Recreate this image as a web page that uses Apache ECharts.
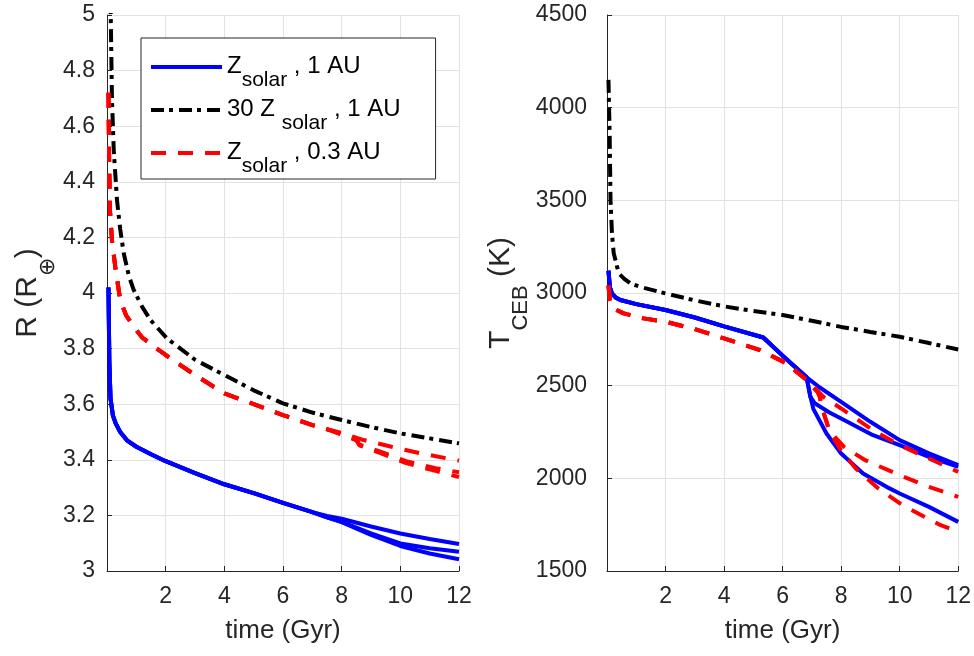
<!DOCTYPE html>
<html><head><meta charset="utf-8">
<script src="https://cdn.jsdelivr.net/npm/echarts@6/dist/echarts.min.js"></script>
<style>html,body{margin:0;padding:0;background:#fff}#c{width:974px;height:656px}</style>
</head><body><div id="c"></div><script>
// ---------------- DATA ----------------
// Left panel: radius R (R_earth) vs time (Gyr)
const rBlueT  = [0.05,0.08,0.12,0.2,0.3,0.45,0.68,1.0,1.5,2,3,4,5,6,7];
const rBlueV  = [4.02,3.75,3.62,3.56,3.53,3.50,3.47,3.447,3.42,3.395,3.352,3.312,3.28,3.245,3.212];
const rBlueAT = [7.5,8,9,10,11,12];
const rBlueAV = [3.198,3.188,3.16,3.135,3.115,3.097];
const rBlueBT = [7.5,8,9,10,11,12];
const rBlueBV = [3.193,3.177,3.135,3.099,3.082,3.069];
const rBlueCT = [7.5,8,9,10,11,12];
const rBlueCV = [3.193,3.176,3.13,3.09,3.063,3.042];

const rBlackT = [0.12,0.17,0.23,0.34,0.45,0.57,0.75,0.91,1.2,1.48,2.04,3,4,5,6,7,8,9,10,11,12];
const rBlackV = [5.05,4.694,4.514,4.335,4.23,4.143,4.06,4.011,3.95,3.903,3.837,3.76,3.705,3.65,3.603,3.57,3.543,3.518,3.495,3.477,3.459];

const rRedT  = [0.05,0.07,0.1,0.17,0.28,0.45,0.65,0.9,1.2,1.6,2,3,4,5,6,7,7.6];
const rRedV  = [4.72,4.5,4.3,4.19,4.095,3.975,3.92,3.88,3.84,3.807,3.777,3.705,3.639,3.6,3.561,3.525,3.507];
const rRedAT = [8,8.75,9.7,10.7,12];
const rRedAV = [3.497,3.471,3.447,3.423,3.397];
const rRedBT = [8,8.5,8.6,9.3,10.2,11.2,12];
const rRedBV = [3.492,3.475,3.455,3.43,3.395,3.37,3.355];
const rRedCT = [8,8.5,8.6,9.3,10.2,11.2,12];
const rRedCV = [3.49,3.47,3.452,3.425,3.388,3.36,3.338];

// Right panel: T_CEB (K) vs time (Gyr)
const tBlueT  = [0.05,0.1,0.17,0.3,0.46,1,2,3,4,5.34,6,6.82];
const tBlueV  = [3120,3030,2998,2975,2962,2940,2908,2868,2820,2760,2662,2545];
const tBlueAT = [7.27,8,9,10,11,12];
const tBlueAV = [2490,2413,2305,2206,2135,2071];
const tBlueBT = [6.95,7.1,7.3,7.6,8,9.09,10,11,12];
const tBlueBV = [2440,2405,2385,2355,2323,2233,2179,2116,2062];
const tBlueCT = [6.95,7.05,7.5,8,8.75,9.55,10,11,12];
const tBlueCV = [2440,2375,2242,2134,2026,1954,1918,1846,1765];

const tBlackT = [0.05,0.09,0.12,0.17,0.23,0.29,0.4,0.6,0.8,1.2,2,3,4,5,6,7,8,9,10,11,12];
const tBlackV = [4150,3861,3501,3321,3214,3177,3106,3075,3052,3030,2998,2960,2928,2903,2881,2850,2817,2790,2764,2730,2695];

const tRedT  = [0.05,0.1,0.23,0.57,1.25,2,3,4,5.23,6.14,6.82];
const tRedV  = [3040,2960,2915,2890,2863,2845,2805,2755,2692,2620,2530];
const tRedAT = [7.39,8,9.09,10,11,12];
const tRedAV = [2440,2377,2260,2179,2107,2035];
const tRedBT = [7.2,7.27,7.33,7.6,8.1,8.8,9.3,10,11,12];
const tRedBV = [2465,2440,2390,2255,2170,2100,2065,2017,1954,1900];
const tRedCT = [7.2,7.27,7.33,7.6,8,8.5,9.26,10.1,11.4,12];
const tRedCV = [2465,2440,2390,2255,2150,2053,1947,1855,1747,1712];

const legendNames = ['Z1','Z30','Z03'];
const legendLabels = {
  Z1:  '{m|Z}{s|solar}{m| , 1 AU}',
  Z30: '{m|30 Z }{s|solar}{m| , 1 AU}',
  Z03: '{m|Z}{s|solar}{m| , 0.3 AU}'
};

// ---------------- BUILD ----------------
function pts(t1, v1, t2, v2) {
  const t = t1.concat(t2 || []), v = v1.concat(v2 || []);
  return t.map((x, i) => [x, v[i]]);
}
const FONT = 'Liberation Sans, Arial, Helvetica, sans-serif';
const TXT = '#262626';
const styles = {
  Z1:  {color:'#0000ff', width:4, type:'solid', cap:'butt'},
  Z30: {color:'#000000', width:4, type:[13,5,4,6], cap:'butt'},
  Z03: {color:'#ff0000', width:4, type:[15,12], cap:'butt'}
};
function ser(name, idx, data) {
  return {type:'line', name, xAxisIndex:idx, yAxisIndex:idx, data, symbol:'none', showSymbol:false,
    lineStyle: styles[name], itemStyle:{color:styles[name].color}, animation:false, silent:true, clip:true};
}
const series = [
  ser('Z1',0,pts(rBlueT,rBlueV,rBlueAT,rBlueAV)),
  ser('Z1',0,pts(rBlueT,rBlueV,rBlueBT,rBlueBV)),
  ser('Z1',0,pts(rBlueT,rBlueV,rBlueCT,rBlueCV)),
  ser('Z30',0,pts(rBlackT,rBlackV)),
  ser('Z03',0,pts(rRedT,rRedV,rRedAT,rRedAV)),
  ser('Z03',0,pts(rRedT,rRedV,rRedBT,rRedBV)),
  ser('Z03',0,pts(rRedT,rRedV,rRedCT,rRedCV)),
  ser('Z1',1,pts(tBlueT,tBlueV,tBlueAT,tBlueAV)),
  ser('Z1',1,pts(tBlueT,tBlueV,tBlueBT,tBlueBV)),
  ser('Z1',1,pts(tBlueT,tBlueV,tBlueCT,tBlueCV)),
  ser('Z30',1,pts(tBlackT,tBlackV)),
  ser('Z03',1,pts(tRedT,tRedV,tRedAT,tRedAV)),
  ser('Z03',1,pts(tRedT,tRedV,tRedBT,tRedBV)),
  ser('Z03',1,pts(tRedT,tRedV,tRedCT,tRedCV))
];

function xAxis(idx) {
  return {type:'value', gridIndex:idx, min:0, max:12, interval:2,
    axisLine:{show:true, onZero:false, lineStyle:{color:TXT, width:1}},
    axisTick:{show:true, inside:true, length:5, lineStyle:{color:TXT}},
    axisLabel:{formatter:v => v === 0 ? '' : String(v), fontSize:23, color:TXT, margin:14, fontFamily:FONT},
    splitLine:{show:true, lineStyle:{color:'#e2e2e2', width:1}},
    name:'time (Gyr)', nameLocation:'middle', nameGap:47,
    nameTextStyle:{fontSize:26, color:TXT, fontFamily:FONT}};
}
function yAxis(idx, min, max, interval, name, gap, margin) {
  return {type:'value', gridIndex:idx, min, max, interval,
    axisLine:{show:true, onZero:false, lineStyle:{color:TXT, width:1}},
    axisTick:{show:true, inside:true, length:5, lineStyle:{color:TXT}},
    axisLabel:{formatter:v => String(v), fontSize:23, color:TXT, margin, fontFamily:FONT},
    splitLine:{show:true, lineStyle:{color:'#e2e2e2', width:1}},
    name, nameLocation:'middle', nameGap:gap, nameRotate:90,
    nameTextStyle:{color:TXT, fontFamily:FONT, rich:{
      m:{fontSize:30, lineHeight:32, verticalAlign:'top', color:TXT, fontFamily:FONT},
      s:{fontSize:22, lineHeight:22, padding:[24,0,0,0], verticalAlign:'top', color:TXT, fontFamily:FONT}
    }}};
}

const option = {
  backgroundColor:'#ffffff',
  animation:false,
  grid:[
    {left:107, top:15, width:352, height:556, containLabel:false},
    {left:607, top:15, width:352, height:556, containLabel:false}
  ],
  xAxis:[xAxis(0), xAxis(1)],
  yAxis:[
    yAxis(0, 3, 5, 0.2, '{m|R (R}{s|⊕}{m|)}', 51, 12),
    yAxis(1, 1500, 4500, 500, '{m|T}{s|CEB}{m| (K)}', 80, 20)
  ],
  legend:{
    data:legendNames, orient:'vertical', left:141, top:38,
    padding:[16,35,2,8], itemGap:6, itemWidth:71, itemHeight:20,
    backgroundColor:'#ffffff', borderColor:TXT, borderWidth:1, borderRadius:0,
    selectedMode:false,
    lineStyle:{width:4},
    itemStyle:{opacity:0, borderWidth:0},
    formatter: n => legendLabels[n],
    textStyle:{color:TXT, fontFamily:FONT, rich:{
      m:{fontSize:24, lineHeight:26, verticalAlign:'top', color:'#000', fontFamily:FONT},
      s:{fontSize:21, lineHeight:20, padding:[16,0,0,0], verticalAlign:'top', color:'#000', fontFamily:FONT}
    }}
  },
  series
};
const chart = echarts.init(document.getElementById('c'), null, {renderer:'canvas'});
chart.setOption(option);
</script></body></html>
